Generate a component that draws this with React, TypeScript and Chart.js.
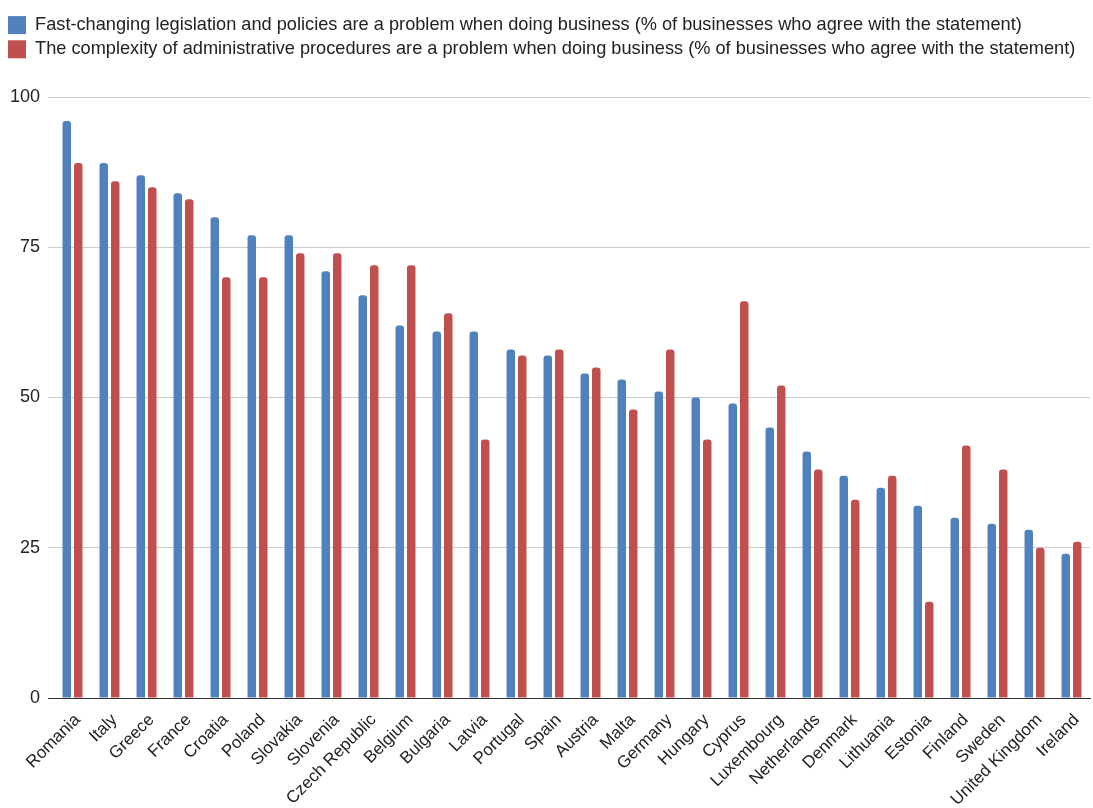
import React, { useEffect, useRef } from "react";
import { Chart, registerables } from "chart.js";

Chart.register(...registerables);

const countries = [
  "Romania", "Italy", "Greece", "France", "Croatia", "Poland", "Slovakia",
  "Slovenia", "Czech Republic", "Belgium", "Bulgaria", "Latvia", "Portugal",
  "Spain", "Austria", "Malta", "Germany", "Hungary", "Cyprus", "Luxembourg",
  "Netherlands", "Denmark", "Lithuania", "Estonia", "Finland", "Sweden",
  "United Kingdom", "Ireland",
];

const fastChanging = [
  96, 89, 87, 84, 80, 77, 77, 71, 67, 62, 61, 61, 58, 57, 54, 53, 51, 50, 49,
  45, 41, 37, 35, 32, 30, 29, 28, 24,
];

const complexity = [
  89, 86, 85, 83, 70, 70, 74, 74, 72, 72, 64, 43, 57, 58, 55, 48, 58, 43, 66,
  52, 38, 33, 37, 16, 42, 38, 25, 26,
];

const seriesLabels = [
  "Fast-changing legislation and policies are a problem when doing business (% of businesses who agree with the statement)",
  "The complexity of administrative procedures are a problem when doing business (% of businesses who agree with the statement)",
];

const yTicks = [0, 25, 50, 75, 100];

const FONT = "'Liberation Sans', Arial, Helvetica, sans-serif";

export default function App() {
  const ref = useRef<HTMLCanvasElement | null>(null);

  useEffect(() => {
    document.body.style.margin = "0";
    const canvas = ref.current;
    if (!canvas) return;

    const legendSpacing = {
      id: "legendSpacing",
      beforeInit(chart: any) {
        const legend = chart.legend;
        if (!legend) return;
        const origFit = legend.fit;
        legend.fit = function () {
          origFit.call(this);
          this.height = 87;
        };
      },
    };

    const chart = new Chart(canvas, {
      type: "bar",
      data: {
        labels: countries,
        datasets: [
          {
            label: seriesLabels[0],
            data: fastChanging,
            backgroundColor: "#4F81BD",
            borderRadius: 3,
            categoryPercentage: 0.62,
            barPercentage: 0.74,
          },
          {
            label: seriesLabels[1],
            data: complexity,
            backgroundColor: "#C0504D",
            borderRadius: 3,
            categoryPercentage: 0.62,
            barPercentage: 0.74,
          },
        ],
      },
      options: {
        responsive: false,
        animation: false,
        layout: { padding: { top: 10, left: 2, right: 3, bottom: 0 } },
        plugins: {
          legend: {
            position: "top",
            align: "start",
            labels: {
              boxWidth: 18,
              boxHeight: 18,
              padding: 6,
              color: "#222",
              font: { family: FONT, size: 18.2 },
            },
          },
          tooltip: { enabled: false },
        },
        scales: {
          x: {
            grid: { display: false, drawTicks: false },
            border: { display: true, color: "#333", width: 1 },
            afterFit: (axis: any) => {
              axis.height = 110;
              axis.paddingLeft = 0;
              axis.paddingRight = 0;
            },
            ticks: {
              autoSkip: false,
              maxRotation: 45,
              minRotation: 45,
              padding: 12,
              labelOffset: 5,
              color: "#222",
              font: { family: FONT, size: 17 },
            },
          },
          y: {
            min: 0,
            max: 100,
            afterBuildTicks: (axis: any) => {
              axis.ticks = yTicks.map((v) => ({ value: v }));
            },
            afterFit: (axis: any) => {
              axis.width = 52;
            },
            border: { display: false },
            grid: {
              color: (ctx: any) => (ctx.tick && ctx.tick.value === 0 ? "#333" : "#ccc"),
              lineWidth: 1,
              drawTicks: true,
              tickLength: 6,
            },
            ticks: {
              padding: 8,
              color: "#222",
              font: { family: FONT, size: 18 },
            },
          },
        },
      },
      plugins: [legendSpacing],
    });

    return () => chart.destroy();
  }, []);

  return (
    <div style={{ width: 1093, height: 808 }}>
      <canvas ref={ref} width={1093} height={808} />
    </div>
  );
}
